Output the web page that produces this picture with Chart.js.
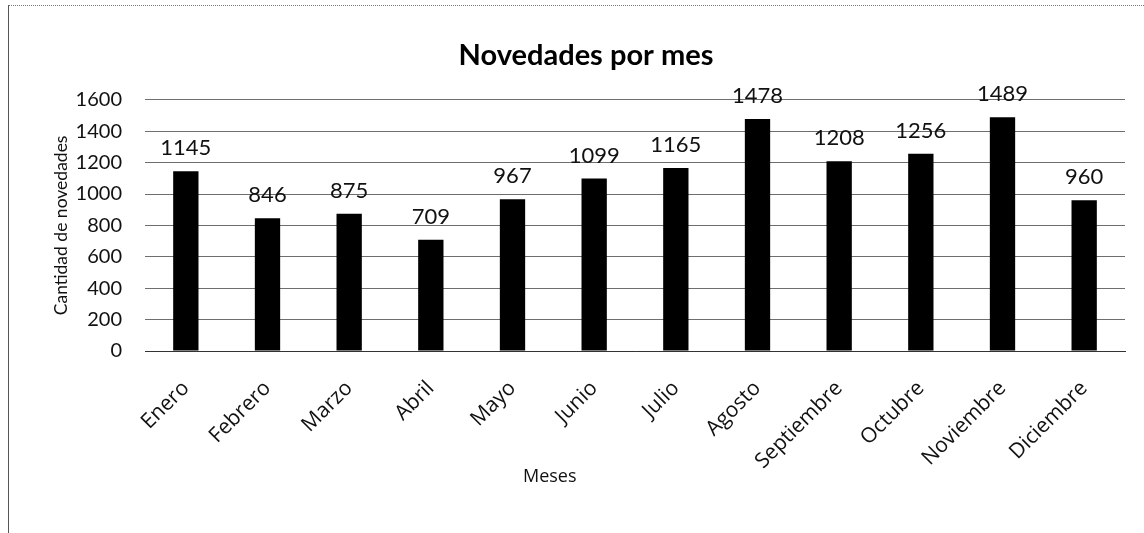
<!DOCTYPE html>
<html>
<head>
<meta charset="utf-8">
<script src="https://cdn.jsdelivr.net/npm/chart.js@4/dist/chart.umd.min.js"></script>
<style>
  html, body { margin: 0; padding: 0; background: #fff; }
  #wrap { position: relative; width: 1144px; height: 533px; }
  #frame { position: absolute; left: 8px; top: 5px; right: 0; bottom: 0;
           border-left: 1px solid #555; border-top: 1px dotted #777; }
  canvas { position: absolute; left: 0; top: 0; }
</style>
</head>
<body>
<div id="wrap">
  <div id="frame"></div>
  <canvas id="graph1" width="1144" height="533"></canvas>
</div>
<script>
// datos del grafico
var meses = ['Enero', 'Febrero', 'Marzo', 'Abril', 'Mayo', 'Junio', 'Julio',
             'Agosto', 'Septiembre', 'Octubre', 'Noviembre', 'Diciembre']
var novedades = [1145, 846, 875, 709, 967, 1099, 1165, 1478, 1208, 1256, 1489, 960]
var yTicks = [0, 200, 400, 600, 800, 1000, 1200, 1400, 1600]

var fuente = 'Lato, "Open Sans", sans-serif'

// etiquetas de valor encima de cada barra + titulo del eje x (no centrado, como en el original)
var etiquetas = {
    id: 'etiquetas',
    afterDatasetsDraw: function (chart) {
        var ctx = chart.ctx
        var meta = chart.getDatasetMeta(0)
        var area = chart.chartArea
        ctx.save()
        ctx.fillStyle = '#111'
        ctx.font = '22px ' + fuente
        ctx.textAlign = 'center'
        ctx.textBaseline = 'bottom'
        meta.data.forEach(function (bar, i) {
            ctx.fillText(novedades[i], bar.x, bar.y - 12)
        })
        ctx.font = '18px "Open Sans", sans-serif'
        ctx.textBaseline = 'middle'
        ctx.fillText('Meses', area.left + (area.right - area.left) * 0.413, 477)
        ctx.restore()
    }
}

var ctx = document.getElementById('graph1').getContext('2d')
var graph1 = new Chart(ctx, {
    type: 'bar',
    data: {
        labels: meses,
        datasets: [{
            label: 'Novedades',
            data: novedades,
            backgroundColor: '#000000',
            categoryPercentage: 1,
            barPercentage: 0.31
        }]
    },
    options: {
        responsive: false,
        animation: false,
        layout: { padding: { left: 47, right: 19, top: 0, bottom: 43 } },
        plugins: {
            legend: { display: false },
            tooltip: { enabled: false },
            title: {
                display: true,
                text: 'Novedades por mes',
                color: '#000',
                font: { family: fuente, size: 29, weight: 'bold' },
                padding: { top: 38, bottom: 27 }
            }
        },
        scales: {
            x: {
                afterFit: function (axis) { axis.height = 139 },
                grid: { display: false },
                border: { color: '#333', width: 1 },
                ticks: {
                    color: '#111',
                    font: { family: '"Open Sans", sans-serif', size: 21 },
                    minRotation: 45,
                    maxRotation: 45,
                    padding: 17
                }
            },
            y: {
                min: 0,
                max: 1600,
                afterFit: function (axis) { axis.width = 98 },
                afterBuildTicks: function (axis) {
                    axis.ticks = yTicks.map(function (v) { return { value: v } })
                },
                grid: { color: '#6e6e6e', drawTicks: false },
                border: { display: false },
                ticks: {
                    color: '#111',
                    font: { family: fuente, size: 20 },
                    padding: 23,
                    callback: function (v) { return String(v) }
                },
                title: {
                    display: true,
                    text: 'Cantidad de novedades',
                    color: '#111',
                    font: { family: fuente, size: 17.5 },
                    padding: { bottom: 8 }
                }
            }
        }
    },
    plugins: [etiquetas]
})
</script>
</body>
</html>
